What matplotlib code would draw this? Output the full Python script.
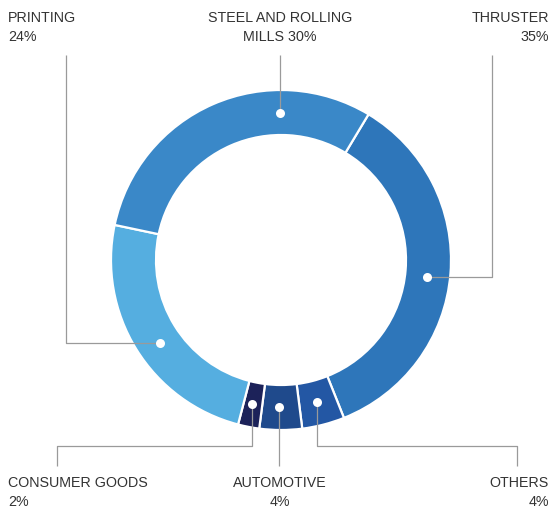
import numpy as np
import matplotlib.pyplot as plt
from matplotlib import font_manager

# segment data, clockwise from the top right
labels = ['THRUSTER', 'OTHERS', 'AUTOMOTIVE', 'CONSUMER GOODS', 'PRINTING', 'STEEL AND ROLLING\nMILLS']
shares = [35, 4, 4, 2, 24, 30]
colors = ['#2e76ba', '#2357a4', '#1f4a8c', '#1c2259', '#55aee0', '#3a88c8']

names = {f.name for f in font_manager.fontManager.ttflist}
family = [n for n in ['Liberation Sans Narrow', 'DejaVu Sans Condensed', 'Liberation Sans'] if n in names]

W, H = 555, 510
def py(y):
    # picture rows run downwards
    return H - y

cx, cy = 281, py(261)
R, ring = 170, 45

fig = plt.figure(figsize=(W / 100, H / 100), dpi=100)
ax = fig.add_axes([0, 0, 1, 1])

wedges, _ = ax.pie(shares, colors=colors, startangle=59, counterclock=False,
                   center=(cx, cy), radius=R, frame=True,
                   wedgeprops=dict(width=ring, edgecolor='white', linewidth=1.6))
for w in wedges:
    w.set_zorder(1)
ax.set_xlim(0, W)
ax.set_ylim(0, H)
ax.set_aspect('equal')
ax.axis('off')

# where each leader starts on the ring (degrees), and its elbow path
anchor_deg = [-6.7, -75.7, -90.6, -101.2, 214.6, 90.4]
rm = R - ring / 2 - 0.5
paths = [
    lambda x, y: ([x, 492, 492], [y, y, py(56)]),
    lambda x, y: ([x, x, 517, 517], [y, py(447), py(447), py(467)]),
    lambda x, y: ([x, x], [y, py(467)]),
    lambda x, y: ([x, x, 57, 57], [y, py(447), py(447), py(467)]),
    lambda x, y: ([x, 66, 66], [y, y, py(56)]),
    lambda x, y: ([x, x], [y, py(56)]),
]
for a, path in zip(anchor_deg, paths):
    x = cx + rm * np.cos(np.radians(a))
    y = cy + rm * np.sin(np.radians(a))
    xs, ys = path(x, y)
    ax.plot(xs, ys, color='#9a9a9a', lw=0.9, zorder=3, solid_capstyle='butt')
    ax.plot(x, y, 'o', ms=6.5, mfc='white', mec='none', zorder=4)

font = dict(family=family + ['DejaVu Sans'], size=10.3, color='#333333',
            linespacing=1.45, va='top')
text_pos = [
    (549, 11, 'right'),
    (549, 476, 'right'),
    (280, 476, 'center'),
    (8, 476, 'left'),
    (8, 11, 'left'),
    (280, 11, 'center'),
]
for lab, s, (tx, ty, ha) in zip(labels, shares, text_pos):
    ax.text(tx, py(ty), f'{lab}\n{s}%' if '\n' not in lab else f'{lab} {s}%',
            ha=ha, multialignment=ha, **font)

fig.savefig('out.png', dpi=100)
